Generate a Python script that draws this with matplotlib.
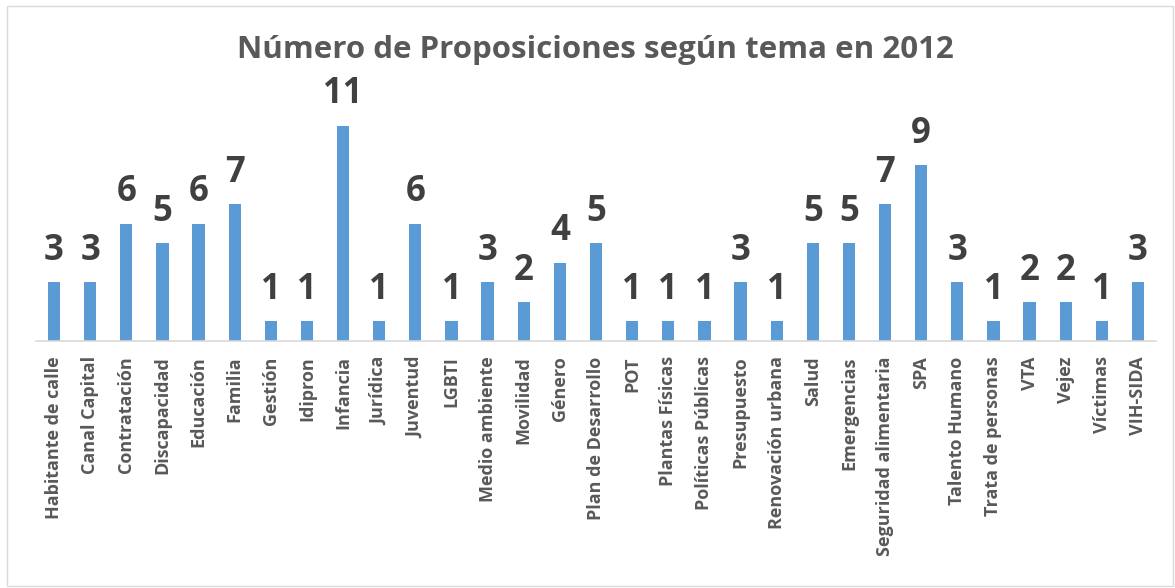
import matplotlib.pyplot as plt

temas = ["Habitante de calle", "Canal Capital", "Contratación", "Discapacidad",
         "Educación", "Familia", "Gestión", "Idipron", "Infancia", "Jurídica",
         "Juventud", "LGBTI", "Medio ambiente", "Movilidad", "Género",
         "Plan de Desarrollo", "POT", "Plantas Físicas", "Políticas Públicas",
         "Presupuesto", "Renovación urbana", "Salud", "Emergencias",
         "Seguridad alimentaria", "SPA", "Talento Humano", "Trata de personas",
         "VTA", "Vejez", "Víctimas", "VIH-SIDA"]
valores = [3, 3, 6, 5, 6, 7, 1, 1, 11, 1, 6, 1, 3, 2, 4, 5, 1, 1, 1, 3, 1,
           5, 5, 7, 9, 3, 1, 2, 2, 1, 3]

plt.rcParams['font.family'] = ['Open Sans', 'DejaVu Sans']

fig = plt.figure(figsize=(11.75, 5.88), dpi=100)
ax = fig.add_axes([36/1175, 1 - 341/588, 1120/1175, (341 - 106)/588])

x = list(range(len(temas)))
ax.bar(x, valores, width=0.34, color='#5B9BD5', zorder=2)
for xi, v in zip(x, valores):
    ax.annotate(str(v), (xi, v), xytext=(0, 16), textcoords='offset points',
                ha='center', va='baseline', fontsize=25, fontweight='bold',
                color='#404040')

ax.set_xlim(-0.5, len(temas) - 0.5)
ax.set_ylim(0, 12)
ax.set_xticks(x)
ax.set_xticklabels(temas, rotation=90, fontsize=13, fontweight='bold',
                   color='#595959')
ax.tick_params(axis='x', length=0, pad=11)
ax.set_yticks([])
for s in ['top', 'right', 'left']:
    ax.spines[s].set_visible(False)
ax.spines['bottom'].set_color('#D9D9D9')
ax.spines['bottom'].set_linewidth(1.2)

fig.text(595/1175, 1 - 50/588, 'Número de Proposiciones según tema en 2012',
         ha='center', va='center', fontsize=22.5, fontweight='bold',
         color='#595959')

border = plt.Rectangle((7/1175, 2/588), 1166/1175, 580/588, transform=fig.transFigure,
                       fill=False, edgecolor='#D9D9D9', linewidth=1)
fig.patches.append(border)

fig.savefig('out.png', dpi=100)
